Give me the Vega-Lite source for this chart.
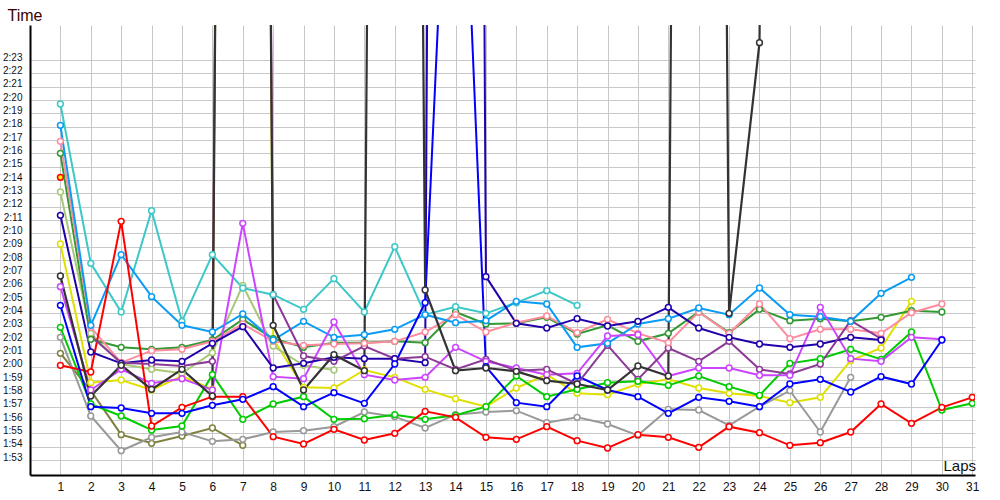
{
  "$schema": "https://vega.github.io/schema/vega-lite/v6.json",
  "width": 945,
  "height": 450,
  "autosize": {"type": "none"},
  "padding": {"left": 30, "top": 25, "right": 25, "bottom": 25},
  "background": "white",
  "config": {"view": {"stroke": null}, "font": "Liberation Sans"},
  "datasets": {
    "laps": [
      {"lap":1,"l_red":120.1,"j_green":122.95,"n_blue":124.6,"m_indigo":131.35,"o_black":126.8,"b_yellow":129.2,"k_magenta":126.0,"d_gray":122.2,"c_olive":121.0,"e_lolive":133.1,"f_dgreen":136.0,"g_pink":136.9,"h_cyan":139.7,"i_lblue":138.1},
      {"lap":2,"l_red":119.6,"j_green":117.2,"n_blue":117.0,"m_indigo":121.1,"o_black":117.8,"b_yellow":118.8,"k_magenta":118.25,"d_gray":116.3,"c_olive":118.2,"e_lolive":122.5,"f_dgreen":122.05,"g_pink":122.95,"h_cyan":127.75,"i_lblue":123.1,"a_purple":122.3},
      {"lap":3,"l_red":130.9,"j_green":116.3,"n_blue":116.9,"m_indigo":120.25,"o_black":120.1,"b_yellow":119.0,"k_magenta":119.8,"d_gray":113.7,"c_olive":114.9,"e_lolive":120.2,"f_dgreen":121.45,"g_pink":120.3,"h_cyan":124.1,"i_lblue":128.4,"a_purple":120.3},
      {"lap":4,"l_red":115.55,"j_green":115.25,"n_blue":116.5,"m_indigo":120.5,"o_black":118.3,"b_yellow":118.25,"k_magenta":118.75,"d_gray":114.7,"c_olive":114.25,"e_lolive":119.8,"f_dgreen":121.3,"g_pink":121.2,"h_cyan":131.7,"i_lblue":125.25,"a_purple":120.2},
      {"lap":5,"l_red":116.95,"j_green":115.55,"n_blue":116.5,"m_indigo":120.4,"o_black":119.8,"b_yellow":119.3,"k_magenta":119.1,"d_gray":115.1,"c_olive":114.8,"e_lolive":119.5,"f_dgreen":121.45,"g_pink":121.3,"h_cyan":123.4,"i_lblue":123.1,"a_purple":120.05},
      {"lap":6,"l_red":117.75,"j_green":119.4,"n_blue":117.1,"m_indigo":121.75,"o_black":117.8,"b_yellow":118.3,"k_magenta":118.25,"d_gray":114.4,"c_olive":115.4,"e_lolive":121.05,"f_dgreen":122.0,"g_pink":121.9,"h_cyan":128.4,"i_lblue":122.6,"a_purple":120.4},
      {"lap":7,"l_red":117.75,"j_green":116.05,"n_blue":117.55,"m_indigo":123.0,"o_black":420,"b_yellow":420,"k_magenta":130.75,"d_gray":114.55,"c_olive":114.1,"e_lolive":126.1,"f_dgreen":123.55,"g_pink":123.2,"h_cyan":125.9,"i_lblue":123.95,"a_purple":420},
      {"lap":8,"l_red":114.75,"j_green":117.2,"n_blue":118.5,"m_indigo":119.9,"o_black":123.1,"b_yellow":122.1,"k_magenta":119.25,"d_gray":115.1,"e_lolive":121.55,"f_dgreen":122.1,"g_pink":121.9,"h_cyan":125.4,"i_lblue":122.0,"a_purple":125.4},
      {"lap":9,"l_red":114.2,"j_green":117.75,"n_blue":117.0,"m_indigo":120.25,"o_black":118.25,"b_yellow":118.45,"k_magenta":119.1,"d_gray":115.2,"e_lolive":120.1,"f_dgreen":121.45,"g_pink":121.6,"h_cyan":124.3,"i_lblue":123.4,"a_purple":120.8},
      {"lap":10,"l_red":115.3,"j_green":116.05,"n_blue":118.05,"m_indigo":120.7,"o_black":120.9,"b_yellow":118.4,"k_magenta":123.35,"d_gray":115.5,"e_lolive":119.75,"f_dgreen":121.8,"g_pink":121.7,"h_cyan":126.6,"i_lblue":122.2,"a_purple":120.4},
      {"lap":11,"l_red":114.5,"j_green":116.1,"n_blue":117.25,"m_indigo":120.6,"o_black":119.7,"b_yellow":119.75,"k_magenta":119.4,"d_gray":116.6,"f_dgreen":121.8,"g_pink":121.75,"h_cyan":124.1,"i_lblue":122.4,"a_purple":121.55},
      {"lap":12,"l_red":115.0,"j_green":116.4,"n_blue":120.2,"m_indigo":120.6,"o_black":420,"b_yellow":119.2,"k_magenta":119.0,"d_gray":116.25,"f_dgreen":121.9,"g_pink":121.9,"h_cyan":129.0,"i_lblue":122.8,"a_purple":120.6},
      {"lap":13,"l_red":116.65,"j_green":116.05,"n_blue":124.8,"m_indigo":120.3,"o_black":125.75,"b_yellow":118.3,"k_magenta":119.2,"d_gray":115.4,"f_dgreen":121.8,"g_pink":122.6,"h_cyan":123.9,"i_lblue":123.9,"a_purple":120.75},
      {"lap":14,"l_red":116.2,"j_green":116.35,"n_blue":174.5,"m_indigo":520,"o_black":119.7,"b_yellow":117.6,"k_magenta":121.45,"d_gray":116.4,"f_dgreen":124.1,"g_pink":123.9,"h_cyan":124.5,"i_lblue":123.3,"a_purple":119.8},
      {"lap":15,"l_red":114.7,"j_green":117.0,"n_blue":120.0,"m_indigo":126.75,"o_black":119.9,"b_yellow":117.0,"k_magenta":120.4,"d_gray":116.6,"f_dgreen":123.2,"g_pink":122.6,"h_cyan":124.0,"i_lblue":123.45,"a_purple":120.55},
      {"lap":16,"l_red":114.55,"j_green":119.3,"n_blue":117.3,"m_indigo":123.25,"o_black":119.65,"b_yellow":118.4,"k_magenta":119.9,"d_gray":116.7,"f_dgreen":123.25,"g_pink":123.3,"h_cyan":124.8,"i_lblue":124.9,"a_purple":119.7},
      {"lap":17,"l_red":115.5,"j_green":117.75,"n_blue":117.0,"m_indigo":122.9,"o_black":118.95,"b_yellow":119.4,"k_magenta":119.4,"d_gray":115.8,"f_dgreen":123.7,"g_pink":123.8,"h_cyan":125.7,"i_lblue":124.7,"a_purple":119.8},
      {"lap":18,"l_red":114.45,"j_green":118.3,"n_blue":119.3,"m_indigo":123.6,"o_black":118.7,"b_yellow":118.0,"k_magenta":119.5,"d_gray":116.2,"f_dgreen":122.45,"g_pink":122.55,"h_cyan":124.6,"i_lblue":121.45,"a_purple":118.7},
      {"lap":19,"l_red":113.9,"j_green":118.8,"n_blue":118.25,"m_indigo":123.05,"o_black":118.25,"b_yellow":117.9,"k_magenta":122.3,"d_gray":115.7,"f_dgreen":123.1,"g_pink":123.55,"i_lblue":121.75,"a_purple":121.6},
      {"lap":20,"l_red":114.9,"j_green":118.9,"n_blue":117.75,"m_indigo":123.4,"o_black":120.05,"b_yellow":118.7,"k_magenta":122.4,"d_gray":114.85,"f_dgreen":121.9,"g_pink":122.5,"i_lblue":123.2,"a_purple":119.05},
      {"lap":21,"l_red":114.7,"j_green":118.6,"n_blue":116.5,"m_indigo":124.45,"o_black":119.3,"b_yellow":119.05,"k_magenta":119.3,"d_gray":116.8,"f_dgreen":122.5,"g_pink":121.8,"i_lblue":123.6,"a_purple":121.4},
      {"lap":22,"l_red":113.95,"j_green":119.3,"n_blue":117.7,"m_indigo":122.9,"o_black":420,"b_yellow":118.4,"k_magenta":119.9,"d_gray":116.75,"f_dgreen":124.1,"g_pink":124.1,"i_lblue":124.4,"a_purple":120.4},
      {"lap":23,"l_red":115.5,"j_green":118.5,"n_blue":117.4,"m_indigo":122.2,"o_black":124.0,"b_yellow":118.0,"k_magenta":119.9,"d_gray":115.6,"f_dgreen":122.55,"g_pink":122.5,"i_lblue":123.9,"a_purple":121.9},
      {"lap":24,"l_red":115.05,"j_green":117.85,"n_blue":117.0,"m_indigo":121.7,"o_black":144.3,"b_yellow":117.8,"k_magenta":119.35,"d_gray":117.0,"f_dgreen":124.3,"g_pink":124.7,"i_lblue":125.9,"a_purple":119.8},
      {"lap":25,"l_red":114.1,"j_green":120.25,"n_blue":118.7,"m_indigo":121.45,"o_black":420,"b_yellow":117.3,"k_magenta":119.35,"d_gray":118.2,"f_dgreen":123.45,"g_pink":122.1,"i_lblue":123.9,"a_purple":119.45},
      {"lap":26,"l_red":114.3,"j_green":120.6,"n_blue":119.05,"m_indigo":121.7,"b_yellow":117.7,"k_magenta":124.45,"d_gray":115.1,"f_dgreen":123.6,"g_pink":122.8,"i_lblue":123.75,"a_purple":120.2},
      {"lap":27,"l_red":115.1,"j_green":121.3,"n_blue":118.1,"m_indigo":122.2,"b_yellow":120.45,"k_magenta":120.6,"d_gray":119.2,"f_dgreen":123.4,"g_pink":122.8,"i_lblue":123.4,"a_purple":123.45},
      {"lap":28,"l_red":117.2,"j_green":120.55,"n_blue":119.25,"m_indigo":122.0,"b_yellow":121.4,"k_magenta":120.4,"f_dgreen":123.7,"g_pink":122.5,"i_lblue":125.5,"a_purple":122.1},
      {"lap":29,"l_red":115.75,"j_green":122.6,"n_blue":118.7,"b_yellow":124.9,"k_magenta":122.2,"f_dgreen":124.2,"g_pink":124.05,"i_lblue":126.7},
      {"lap":30,"l_red":116.95,"j_green":116.75,"n_blue":122.0,"k_magenta":122.05,"f_dgreen":124.1,"g_pink":124.7},
      {"lap":31,"l_red":117.7,"j_green":117.25}
    ]
  },
  "data": {"name": "laps"},
  "transform": [
    {"fold": ["a_purple","b_yellow","c_olive","d_gray","e_lolive","f_dgreen","g_pink","h_cyan","i_lblue","j_green","k_magenta","l_red","m_indigo","n_blue","o_black"], "as": ["s","t"]},
    {"filter": "isValid(datum.t)"}
  ],
  "encoding": {
    "x": {
      "field": "lap", "type": "quantitative",
      "scale": {"domain": [0, 31.09], "nice": false, "zero": false},
      "axis": {
        "values": [1,2,3,4,5,6,7,8,9,10,11,12,13,14,15,16,17,18,19,20,21,22,23,24,25,26,27,28,29,30,31],
        "grid": true, "gridColor": "#c8c8c8", "gridWidth": 1,
        "ticks": false, "tickSize": 0,
        "domain": true, "domainColor": "#000000", "domainWidth": 2,
        "labelFontSize": 12, "labelColor": "#111111", "labelPadding": 6, "labelFont": "Liberation Sans",
        "title": "Laps", "titleFontSize": 15, "titleFontWeight": "normal", "titleColor": "#111111", "titleFont": "Liberation Sans",
        "titleAlign": "left", "titleBaseline": "alphabetic", "titleX": 913, "titleY": -5, "titleAnchor": null
      }
    },
    "y": {
      "field": "t", "type": "quantitative",
      "scale": {"domain": [111.875, 145.625], "nice": false, "zero": false},
      "axis": {
        "values": [113,114,115,116,117,118,119,120,121,122,123,124,125,126,127,128,129,130,131,132,133,134,135,136,137,138,139,140,141,142,143],
        "labelExpr": "floor(datum.value/60) + ':' + (datum.value % 60 < 10 ? '0' : '') + (datum.value % 60)",
        "grid": true, "gridColor": "#c8c8c8", "gridWidth": 1,
        "ticks": false, "tickSize": 0,
        "domain": true, "domainColor": "#000000", "domainWidth": 2,
        "labelFontSize": 10, "labelColor": "#111111", "labelPadding": 8, "labelBaseline": "alphabetic", "labelFont": "Liberation Sans",
        "title": "Time", "titleFontSize": 16, "titleFontWeight": "normal", "titleColor": "#3a0000", "titleFont": "Liberation Sans",
        "titleAngle": 0, "titleAlign": "left", "titleBaseline": "alphabetic", "titleX": -23, "titleY": -5, "titleAnchor": null
      }
    }
  },
  "layer": [
    {
      "transform": [{"filter": "datum.s !== 'o_black'"}],
      "mark": {"type": "line", "strokeWidth": 2, "clip": true},
      "encoding": {
        "color": {
          "field": "s", "type": "nominal", "legend": null,
          "scale": {
            "domain": ["a_purple","b_yellow","c_olive","d_gray","e_lolive","f_dgreen","g_pink","h_cyan","i_lblue","j_green","k_magenta","l_red","m_indigo","n_blue","o_black"],
            "range": ["#8b3a96","#e0e000","#808040","#999999","#a8c878","#339933","#ff8c9e","#3cc8c8","#0a9cf5","#00cc00","#cc44ff","#ff0000","#2200aa","#0000ff","#333333"]
          }
        }
      }
    },
    {
      "transform": [{"filter": "datum.s === 'o_black'"}],
      "mark": {"type": "line", "strokeWidth": 2.2, "clip": true, "color": "#333333"}
    },
    {
      "mark": {"type": "point", "shape": "circle", "filled": false, "fill": "white", "fillOpacity": 1, "opacity": 1, "size": 34, "strokeWidth": 1.5, "clip": true},
      "encoding": {
        "stroke": {
          "field": "s", "type": "nominal", "legend": null,
          "scale": {
            "domain": ["a_purple","b_yellow","c_olive","d_gray","e_lolive","f_dgreen","g_pink","h_cyan","i_lblue","j_green","k_magenta","l_red","m_indigo","n_blue","o_black"],
            "range": ["#8b3a96","#e0e000","#808040","#999999","#a8c878","#339933","#ff8c9e","#3cc8c8","#0a9cf5","#00cc00","#cc44ff","#ff0000","#2200aa","#0000ff","#333333"]
          }
        }
      }
    },
    {
      "data": {"values": [{"lap": 1, "t": 134.2}]},
      "transform": [],
      "mark": {"type": "point", "shape": "circle", "filled": true, "fill": "#ffee00", "stroke": "#ff0000", "strokeWidth": 1.5, "size": 34, "opacity": 1}
    },
    {
      "data": {"values": [{}]},
      "transform": [],
      "mark": {"type": "point", "shape": "triangle-up", "filled": true, "color": "#000000", "size": 45, "opacity": 1, "clip": false},
      "encoding": {"x": {"datum": 0}, "y": {"datum": 145.1}}
    },
    {
      "data": {"values": [{}]},
      "transform": [],
      "mark": {"type": "point", "shape": "triangle-right", "filled": true, "color": "#000000", "size": 45, "opacity": 1, "clip": false},
      "encoding": {"x": {"datum": 30.95}, "y": {"datum": 111.875}}
    },
    {
      "data": {"values": [{}]},
      "transform": [],
      "mark": {"type": "point", "shape": "square", "filled": true, "color": "#000000", "size": 16, "opacity": 1, "clip": false},
      "encoding": {"x": {"datum": 0}, "y": {"datum": 111.875}}
    }
  ]
}
